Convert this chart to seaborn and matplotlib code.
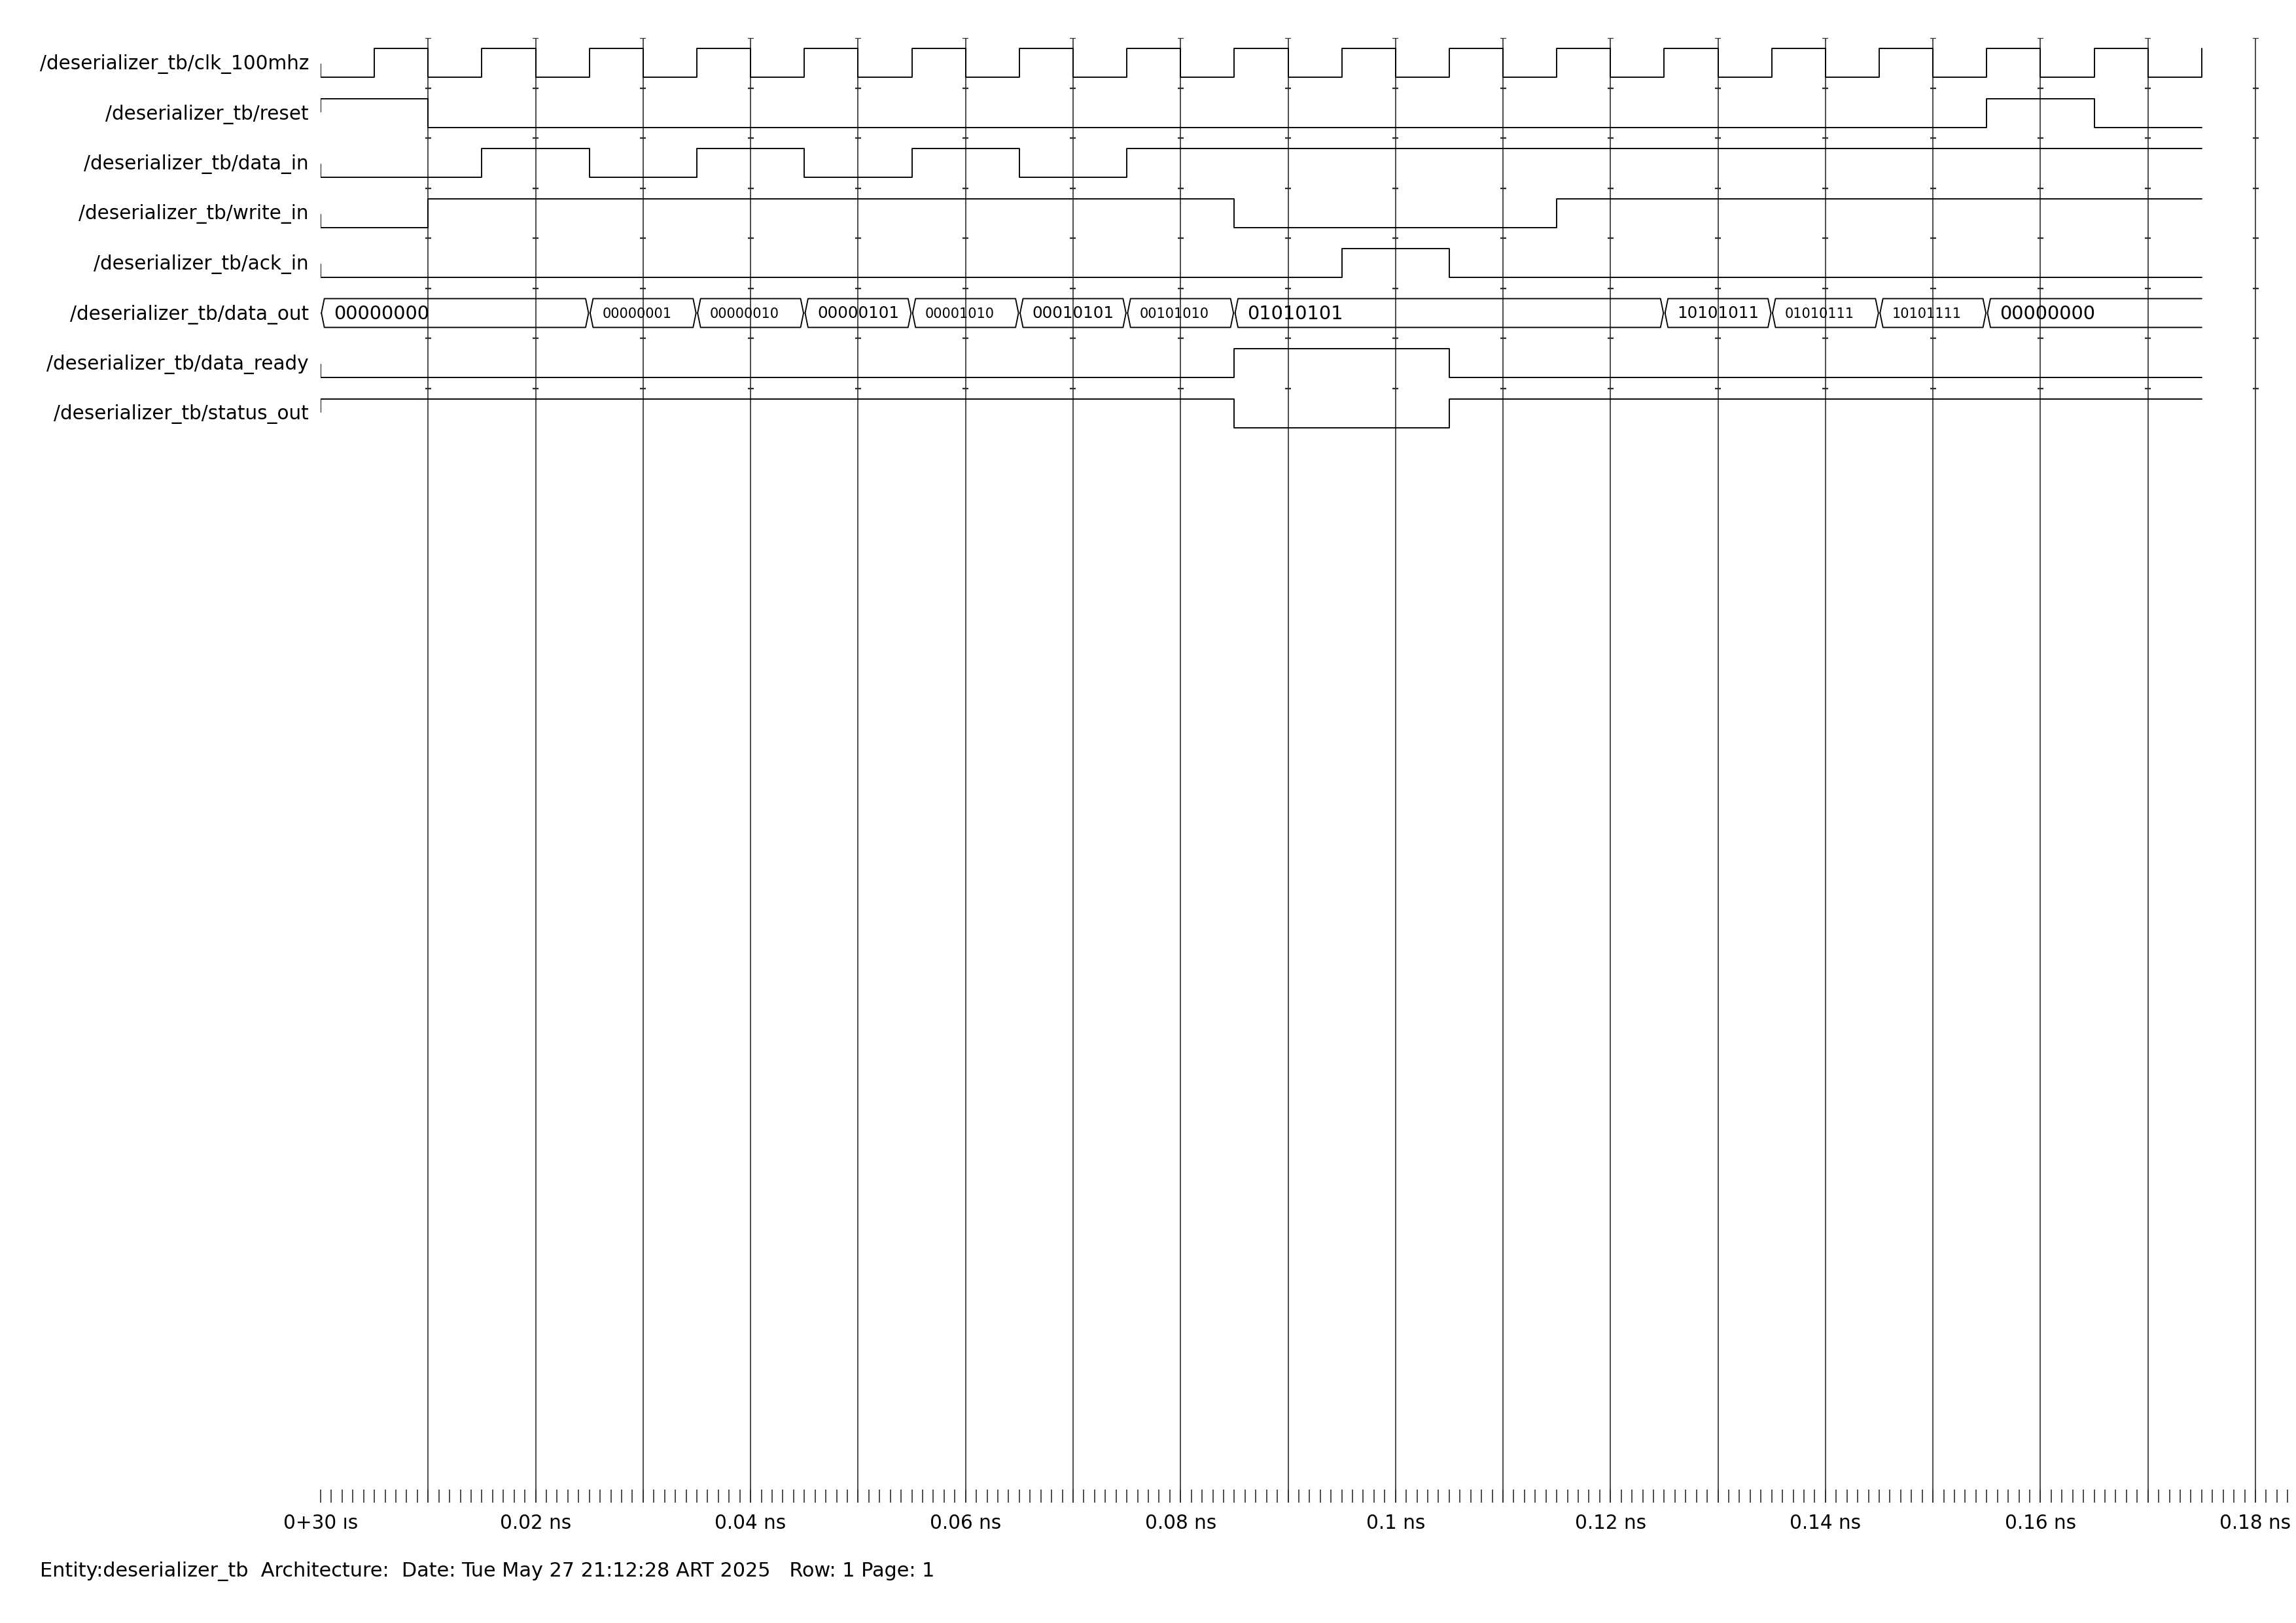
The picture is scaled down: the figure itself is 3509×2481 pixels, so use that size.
import matplotlib

matplotlib.use("Agg")
import matplotlib.pyplot as plt
import pandas as pd
import seaborn as sns
from matplotlib.ticker import MultipleLocator

# signal names as shown in the wave window
SIGNAL_NAMES = [
    "/deserializer_tb/clk_100mhz",
    "/deserializer_tb/reset",
    "/deserializer_tb/data_in",
    "/deserializer_tb/write_in",
    "/deserializer_tb/ack_in",
    "/deserializer_tb/data_out",
    "/deserializer_tb/data_ready",
    "/deserializer_tb/status_out",
]

# transition times (ns) and levels after each transition
CLK_T = [0.0, 0.005, 0.01, 0.015, 0.02, 0.025, 0.03, 0.035, 0.04, 0.045, 0.05, 0.055,
         0.06, 0.065, 0.07, 0.075, 0.08, 0.085, 0.09, 0.095, 0.1, 0.105, 0.11, 0.115,
         0.12, 0.125, 0.13, 0.135, 0.14, 0.145, 0.15, 0.155, 0.16, 0.165, 0.17, 0.175]
CLK_V = [0, 1, 0, 1, 0, 1, 0, 1, 0, 1, 0, 1,
         0, 1, 0, 1, 0, 1, 0, 1, 0, 1, 0, 1,
         0, 1, 0, 1, 0, 1, 0, 1, 0, 1, 0, 1]

RESET_T = [0.0, 0.01, 0.155, 0.165, 0.175]
RESET_V = [1, 0, 1, 0, 0]

DATA_IN_T = [0.0, 0.015, 0.025, 0.035, 0.045, 0.055, 0.065, 0.075, 0.175]
DATA_IN_V = [0, 1, 0, 1, 0, 1, 0, 1, 1]

WRITE_IN_T = [0.0, 0.01, 0.085, 0.115, 0.175]
WRITE_IN_V = [0, 1, 0, 1, 1]

ACK_IN_T = [0.0, 0.095, 0.105, 0.175]
ACK_IN_V = [0, 1, 0, 0]

DATA_READY_T = [0.0, 0.085, 0.105, 0.175]
DATA_READY_V = [0, 1, 0, 0]

STATUS_OUT_T = [0.0, 0.085, 0.105, 0.175]
STATUS_OUT_V = [1, 0, 1, 1]

# bus: segment boundaries and values
DATA_OUT_T = [0.0, 0.025, 0.035, 0.045, 0.055, 0.065, 0.075, 0.085,
              0.125, 0.135, 0.145, 0.155, 0.175]
DATA_OUT_V = ["00000000", "00000001", "00000010", "00000101", "00001010", "00010101",
              "00101010", "01010101", "10101011", "01010111", "10101111", "00000000"]

TICK_TIMES = [0.0, 0.02, 0.04, 0.06, 0.08, 0.1, 0.12, 0.14, 0.16, 0.18]
TICK_LABELS = ["0+30 ıs", "0.02 ns", "0.04 ns", "0.06 ns", "0.08 ns", "0.1 ns",
               "0.12 ns", "0.14 ns", "0.16 ns", "0.18 ns"]

FOOTER = ("Entity:deserializer_tb  Architecture:  Date: Tue May 27 21:12:28 ART 2025"
          "   Row: 1 Page: 1")

# font size used for each bus value (the viewer shrinks some of them)
BUS_TEXT_PT = [6.9, 5.0, 5.0, 5.9, 5.0, 5.9, 5.0, 6.9, 5.9, 5.0, 5.0, 6.9]

W, H, DPI = 3509, 2481, 300
X0_PX, NS_PX = 490, (3447 - 490) / 0.18
T_MAX = 0.1835
Y_TOP, Y_BOT = 58, 2297
ROW_HIGH0, ROW_PITCH, ROW_H = 74, 76.5, 44
FONT_PT = 7.1
SIG_LW, GRID_LW = 0.45, 0.4
GRID_COLOR = "#2e2e2e"


def main():
    sns.set_theme(style="white")
    plt.rcParams["font.family"] = ["DejaVu Sans"]

    fig = plt.figure(figsize=(W / DPI, H / DPI), dpi=DPI)
    right_px = X0_PX + T_MAX * NS_PX
    ax = fig.add_axes([X0_PX / W, 1 - Y_BOT / H, (right_px - X0_PX) / W, (Y_BOT - Y_TOP) / H])
    ax.set_xlim(0, T_MAX)
    ax.set_ylim(Y_BOT, Y_TOP)

    # grid lines every 0.01 ns with small row separators
    grid_t = [k / 100 for k in range(1, 19)]
    ax.vlines(grid_t, Y_TOP, Y_BOT, color=GRID_COLOR, lw=GRID_LW, zorder=1)
    half = 4.5 / NS_PX
    for k in range(len(SIGNAL_NAMES)):
        yk = Y_TOP + ROW_PITCH * k
        ax.hlines([yk] * len(grid_t), [t - half for t in grid_t], [t + half for t in grid_t],
                  color=GRID_COLOR, lw=0.55, zorder=1)

    digital = {
        0: (CLK_T, CLK_V),
        1: (RESET_T, RESET_V),
        2: (DATA_IN_T, DATA_IN_V),
        3: (WRITE_IN_T, WRITE_IN_V),
        4: (ACK_IN_T, ACK_IN_V),
        6: (DATA_READY_T, DATA_READY_V),
        7: (STATUS_OUT_T, STATUS_OUT_V),
    }
    for row, (times, levels) in digital.items():
        high = ROW_HIGH0 + ROW_PITCH * row
        low = high + ROW_H
        df = pd.DataFrame({"t": times, "y": [low - v * ROW_H for v in levels]})
        sns.lineplot(data=df, x="t", y="y", ax=ax, estimator=None, sort=False,
                     drawstyle="steps-post", color="black", lw=SIG_LW, zorder=3)
        # start marker at t = 0
        y_start = low - levels[0] * ROW_H
        y_end = y_start - 20 if levels[0] == 0 else y_start + 20
        ax.plot([0, 0], [y_start, y_end], color="black", lw=SIG_LW, zorder=3)

    # bus row
    row = 5
    top = ROW_HIGH0 + ROW_PITCH * row
    bot = top + ROW_H
    mid = (top + bot) / 2
    g, d = 1.2 / NS_PX, 4.5 / NS_PX
    n_seg = len(DATA_OUT_V)
    for i, val in enumerate(DATA_OUT_V):
        t0, t1 = DATA_OUT_T[i], DATA_OUT_T[i + 1]
        if i < n_seg - 1:
            xs = [t0 + g, t0 + g + d, t1 - g - d, t1 - g, t1 - g - d, t0 + g + d, t0 + g]
            ys = [mid, top, top, mid, bot, bot, mid]
        else:
            xs = [t1, t0 + g + d, t0 + g, t0 + g + d, t1]
            ys = [top, top, mid, bot, bot]
        sns.lineplot(x=xs, y=ys, ax=ax, estimator=None, sort=False,
                     color="black", lw=SIG_LW, zorder=3)
        ax.text(t0 + 20 / NS_PX, mid + 1, val, fontsize=BUS_TEXT_PT[i],
                ha="left", va="center", color="black", zorder=4)

    # signal names
    for row, name in enumerate(SIGNAL_NAMES):
        yc = ROW_HIGH0 + ROW_PITCH * row + ROW_H / 2 + 2
        ax.text(-(X0_PX - 472) / NS_PX, yc, name, fontsize=FONT_PT,
                ha="right", va="center", color="black", clip_on=False)

    # time axis
    ax.set_xticks(TICK_TIMES, TICK_LABELS)
    ax.xaxis.set_minor_locator(MultipleLocator(0.001))
    ax.set_yticks([])
    ax.tick_params(axis="x", which="both", bottom=True, direction="in",
                   length=20 * 72 / DPI, width=GRID_LW, color=GRID_COLOR)
    ax.tick_params(axis="x", which="major", labelsize=FONT_PT, pad=4, labelcolor="black")
    ax.set_xlabel("")
    ax.set_ylabel("")
    sns.despine(ax=ax, left=True, bottom=True)

    fig.text(61 / W, 1 - 2402 / H, FOOTER, fontsize=7.27, ha="left", va="center",
             color="black")

    fig.savefig("out.png", dpi=DPI, facecolor="white")
    plt.close(fig)


if __name__ == "__main__":
    main()
